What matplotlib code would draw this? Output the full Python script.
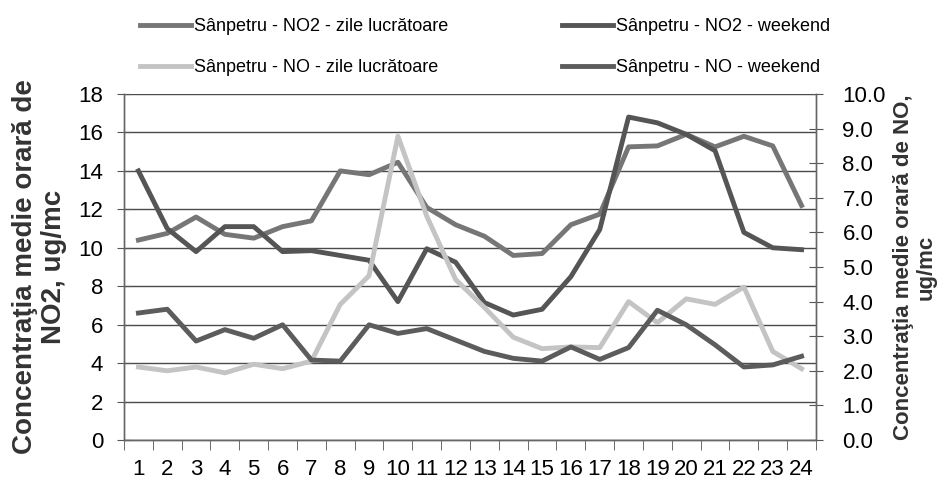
import matplotlib
matplotlib.use("Agg")
import matplotlib.pyplot as plt

plt.rcParams["font.family"] = ["Liberation Sans", "DejaVu Sans"]

hours = list(range(1, 25))

# NO2, ug/mc (left axis)
no2_zile = [10.4, 10.75, 11.6, 10.7, 10.5, 11.1, 11.4, 14.0, 13.8, 14.45, 12.1, 11.2,
            10.6, 9.6, 9.7, 11.2, 11.75, 15.25, 15.3, 15.9, 15.25, 15.8, 15.3, 12.2]
no2_weekend = [14.0, 11.0, 9.8, 11.1, 11.1, 9.8, 9.85, 9.6, 9.35, 7.2, 9.95, 9.25,
               7.15, 6.5, 6.8, 8.5, 10.95, 16.8, 16.5, 15.9, 15.05, 10.8, 10.0, 9.9]

# NO, ug/mc (right axis)
no_zile = [2.11, 2.0, 2.11, 1.94, 2.19, 2.06, 2.28, 3.92, 4.75, 8.78, 6.47, 4.64,
           3.83, 2.97, 2.64, 2.69, 2.67, 4.0, 3.39, 4.08, 3.92, 4.42, 2.56, 2.06]
no_weekend = [3.67, 3.78, 2.86, 3.19, 2.94, 3.33, 2.31, 2.28, 3.33, 3.08, 3.22, 2.89,
              2.56, 2.36, 2.28, 2.69, 2.33, 2.67, 3.75, 3.33, 2.75, 2.11, 2.17, 2.42]

labels = ["Sânpetru - NO2 - zile lucrătoare", "Sânpetru - NO - zile lucrătoare",
          "Sânpetru - NO2 - weekend", "Sânpetru - NO - weekend"]

fig = plt.figure(figsize=(9.45, 4.86), dpi=100)
ax = fig.add_axes([124 / 945, 1 - 440 / 486, 692 / 945, 346 / 486])
ax2 = ax.twinx()

lw = 3.5
l1, = ax.plot(hours, no2_zile, color="#767676", lw=lw)
l3, = ax.plot(hours, no2_weekend, color="#555555", lw=lw)
l2, = ax2.plot(hours, no_zile, color="#c4c4c4", lw=lw)
l4, = ax2.plot(hours, no_weekend, color="#5c5c5c", lw=lw)

ax.set_xlim(0.5, 24.5)
ax.set_ylim(0, 18)
ax.set_yticks(range(0, 19, 2))
ax2.set_ylim(0, 10)
ax2.set_yticks(range(0, 11))
ax2.set_yticklabels([f"{v:.1f}" for v in range(0, 11)])

ax.set_xticks(hours)
ax.set_xticks([h + 0.5 for h in range(0, 25)], minor=True)
ax.tick_params(axis="x", which="major", length=0, labelsize=16, pad=14)
ax.tick_params(axis="x", which="minor", length=7, direction="out", color="#555555")
ax.tick_params(axis="y", length=10, direction="inout", color="#555555", labelsize=16, pad=10)
ax2.tick_params(axis="y", length=10, direction="inout", color="#555555", labelsize=16, pad=14)

ax.grid(axis="y", color="#4a4a4a", lw=1)
ax.set_axisbelow(True)
for a in (ax, ax2):
    a.spines["top"].set_visible(False)
    for s in ("left", "right", "bottom"):
        a.spines[s].set_color("#666666")
        a.spines[s].set_linewidth(1)

ax.set_ylabel("Concentraţia medie orară de\nNO2, ug/mc", fontsize=20, fontweight="bold",
              color="#333333", linespacing=1.15, labelpad=8)
ax2.set_ylabel("Concentraţia medie orară de NO,\nug/mc", fontsize=16, fontweight="bold",
               color="#333333", linespacing=1.1, rotation=90, labelpad=5)

fig.legend([l1, l2, l3, l4], labels, ncol=2, loc="upper left",
           bbox_to_anchor=(140 / 945, 1 - 18 / 486), frameon=False, fontsize=13,
           handlelength=2.8, handletextpad=0.2, labelspacing=1.35, columnspacing=6.3,
           borderpad=0, borderaxespad=0)

fig.savefig("out.png", dpi=100)
